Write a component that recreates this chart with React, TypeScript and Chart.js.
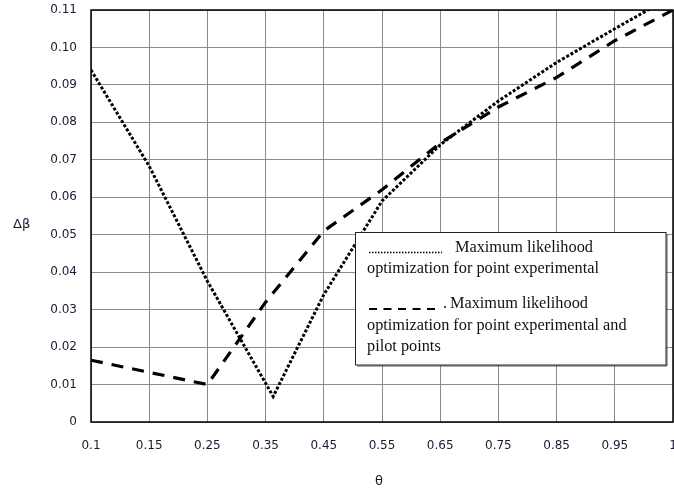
import React, { useEffect, useRef } from "react";
import { Chart, registerables } from "chart.js";

Chart.register(...registerables);

// Tick labels of the θ axis (evenly spaced categories)
const xTickLabels = ["0.1", "0.15", "0.25", "0.35", "0.45", "0.55", "0.65", "0.75", "0.85", "0.95", "1"];

// Series 1: Maximum likelihood optimization for point experimental (dotted)
const dottedX = [0, 1, 2, 3.13, 4, 5, 6, 7, 8, 9, 10];
const dottedY = [0.094, 0.0683, 0.0376, 0.0068, 0.034, 0.059, 0.074, 0.0857, 0.096, 0.105, 0.1138];

// Series 2: Maximum likelihood optimization for point experimental and pilot points (dashed)
const dashedX = [0, 2, 3, 4, 5, 6, 7, 8, 9, 10];
const dashedY = [0.0165, 0.01, 0.032, 0.051, 0.062, 0.0745, 0.0841, 0.092, 0.1018, 0.11];

const yTickStep = 0.01;
const yMax = 0.11;

const legendLines1 = ["Maximum likelihood", "optimization for point experimental"];
const legendLines2 = ["Maximum likelihood", "optimization for point experimental and", "pilot points"];

const xTitle = "θ";
const yTitle = "Δβ";

const CANVAS_W = 678;

export default function App() {
  const canvasRef = useRef<HTMLCanvasElement | null>(null);

  useEffect(() => {
    const canvas = canvasRef.current;
    if (!canvas) return;

    const overlay = {
      id: "overlay",
      afterDraw(chart: any) {
        const ctx = chart.ctx as CanvasRenderingContext2D;
        const a = chart.chartArea;
        ctx.save();
        // frame
        ctx.strokeStyle = "#000";
        ctx.lineWidth = 1.5;
        ctx.strokeRect(a.left, a.top, a.right - a.left, a.bottom - a.top);

        // axis titles
        ctx.fillStyle = "#1a1a33";
        ctx.font = "13px 'DejaVu Sans'";
        ctx.textBaseline = "alphabetic";
        ctx.textAlign = "left";
        ctx.fillText(yTitle, 13, 227.5);
        ctx.textAlign = "center";
        ctx.textBaseline = "middle";
        ctx.fillText(xTitle, 379, 482);

        // legend box
        const bx = 355.5, by = 232.5, bw = 310.5, bh = 132.5;
        ctx.fillStyle = "#fff";
        ctx.fillRect(bx, by, bw, bh);
        ctx.strokeStyle = "#555";
        ctx.lineWidth = 1;
        ctx.beginPath();
        ctx.moveTo(bx + 1.5, by + bh + 1);
        ctx.lineTo(bx + bw + 1, by + bh + 1);
        ctx.lineTo(bx + bw + 1, by + 1.5);
        ctx.stroke();
        ctx.strokeStyle = "#222";
        ctx.strokeRect(bx, by, bw, bh);

        // sample 1 (dotted)
        ctx.strokeStyle = "#000";
        ctx.lineWidth = 1.5;
        ctx.setLineDash([1.5, 1.5]);
        ctx.beginPath();
        ctx.moveTo(369, 252.5);
        ctx.lineTo(442, 252.5);
        ctx.stroke();
        // sample 2 (dashed)
        ctx.lineWidth = 2.2;
        ctx.setLineDash([8, 6.5]);
        ctx.beginPath();
        ctx.moveTo(369, 309);
        ctx.lineTo(438, 309);
        ctx.stroke();
        ctx.setLineDash([]);

        ctx.fillStyle = "#111";
        ctx.font = "16.3px 'Liberation Serif'";
        ctx.textAlign = "left";
        ctx.textBaseline = "alphabetic";
        ctx.fillText(legendLines1[0], 455, 252);
        ctx.fillText(legendLines1[1], 367, 273);
        ctx.fillText(".", 443, 307.5);
        ctx.fillText(legendLines2[0], 450, 307.5);
        ctx.fillText(legendLines2[1], 367, 329.5);
        ctx.fillText(legendLines2[2], 367, 350.5);
        ctx.restore();
      },
    };

    const chart = new Chart(canvas, {
      type: "line",
      data: {
        datasets: [
          {
            label: legendLines1.join(" "),
            data: dottedX.map((x, i) => ({ x, y: dottedY[i] })),
            borderColor: "#000",
            borderWidth: 3,
            borderDash: [3, 1.9],
            borderCapStyle: "butt",
            pointRadius: 0,
            tension: 0,
            fill: false,
          },
          {
            label: legendLines2.join(" "),
            data: dashedX.map((x, i) => ({ x, y: dashedY[i] })),
            borderColor: "#000",
            borderWidth: 3.2,
            borderDash: [12, 9],
            borderCapStyle: "butt",
            pointRadius: 0,
            tension: 0,
            fill: false,
          },
        ],
      },
      options: {
        animation: false,
        responsive: false,
        devicePixelRatio: 1,
        layout: { padding: 0 },
        plugins: {
          legend: { display: false },
          tooltip: { enabled: false },
          title: { display: false },
        },
        scales: {
          x: {
            type: "linear",
            min: 0,
            max: 10,
            afterFit: (s: any) => {
              s.height = 69;
              s.paddingLeft = 0;
              s.paddingRight = 5;
            },
            afterBuildTicks: (s: any) => {
              s.ticks = xTickLabels.map((_, i) => ({ value: i }));
            },
            ticks: {
              autoSkip: false,
              maxRotation: 0,
              padding: 17,
              color: "#1a1a33",
              font: { family: "'DejaVu Sans'", size: 12 },
              callback: (v: any) => xTickLabels[Math.round(Number(v))] ?? "",
            },
            grid: { color: "#8a8a8a", lineWidth: 1, drawTicks: false },
            border: { display: false },
          },
          y: {
            type: "linear",
            min: 0,
            max: yMax,
            afterFit: (s: any) => {
              s.width = 91;
              s.paddingTop = 10;
              s.paddingBottom = 0;
            },
            ticks: {
              stepSize: yTickStep,
              padding: 14,
              color: "#1a1a33",
              font: { family: "'DejaVu Sans'", size: 12 },
              callback: (v: any) => (Number(v) === 0 ? "0" : Number(v).toFixed(2)),
            },
            grid: { color: "#8a8a8a", lineWidth: 1, drawTicks: false },
            border: { display: false },
          },
        },
      },
      plugins: [overlay],
    });

    return () => {
      chart.destroy();
    };
  }, []);

  return (
    <div style={{ position: "fixed", left: 0, top: 0, width: CANVAS_W, height: 491, background: "#fff" }}>
      <canvas ref={canvasRef} width={CANVAS_W} height={491} style={{ display: "block", width: CANVAS_W, height: 491 }} />
    </div>
  );
}
